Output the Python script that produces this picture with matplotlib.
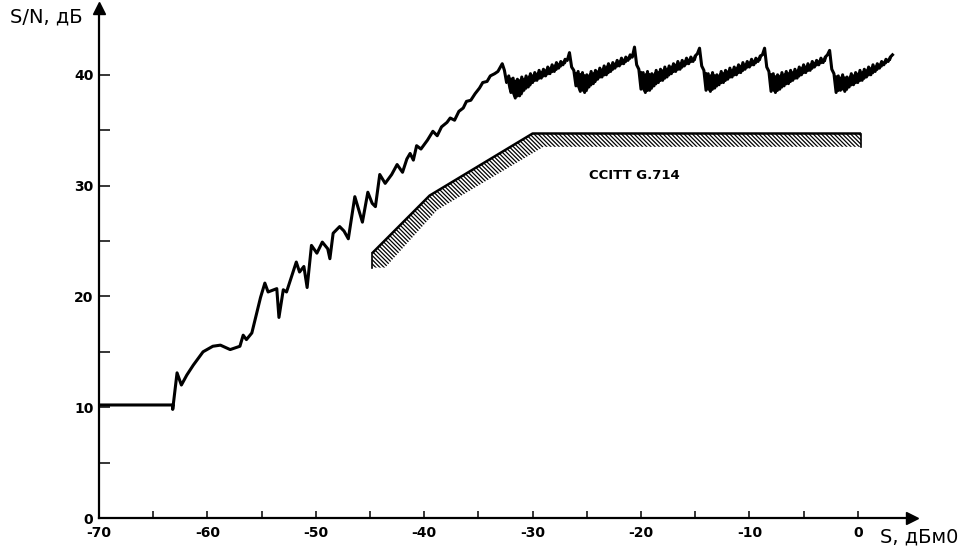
import numpy as np
import matplotlib
matplotlib.use("Agg")
import matplotlib.pyplot as plt

plt.rcParams['font.family'] = ['DejaVu Sans']
plt.rcParams['axes.unicode_minus'] = False
plt.rcParams['hatch.linewidth'] = 0.9

# measured S/N curve: smooth rising part (read point by point)
rise_x = [-70, -63.2, -63.2, -62.8, -62.4, -61.9, -61.3, -60.4, -59.5, -58.8, -57.9,
          -57.0, -56.7, -56.4, -55.9, -55.1, -54.7, -54.4, -53.6, -53.4, -53.0, -52.7,
          -51.8, -51.5, -51.1, -50.8, -50.4, -49.9, -49.4, -48.9, -48.7, -48.4, -47.8,
          -47.4, -47.0, -46.4, -45.7, -45.2, -44.8, -44.5, -44.1, -43.6, -43.0, -42.5,
          -42.0, -41.6, -41.3, -41.0, -40.7, -40.3, -39.7, -39.2, -38.8, -38.4, -37.9,
          -37.6, -37.2, -36.8, -36.4, -36.1, -35.7, -35.3, -34.9, -34.6, -34.2, -33.9,
          -33.5, -33.2]
rise_y = [10.2, 10.2, 9.8, 13.1, 12.0, 12.9, 13.8, 15.0, 15.5, 15.6, 15.2,
          15.5, 16.5, 16.1, 16.7, 19.9, 21.2, 20.4, 20.7, 18.1, 20.6, 20.4,
          23.1, 22.2, 22.7, 20.8, 24.6, 23.9, 24.9, 24.3, 23.4, 25.7, 26.3,
          25.9, 25.2, 29.0, 26.7, 29.4, 28.4, 28.1, 31.0, 30.2, 31.0, 31.9,
          31.2, 32.4, 32.9, 32.3, 33.6, 33.3, 34.1, 34.9, 34.5, 35.3, 35.7,
          36.1, 35.9, 36.7, 37.0, 37.6, 37.7, 38.3, 38.8, 39.3, 39.4, 39.9,
          40.1, 40.3]

# saw-tooth part, sampled every 0.2 dB from each tooth's start
tooth_start = [-32.8, -26.6, -20.6, -14.6, -8.6, -2.6]
tooth1 = [41.0, 40.4, 39.3, 39.9, 38.4, 39.7, 37.9, 39.6, 38.1, 39.8, 38.6, 39.9, 38.9,
          40.1, 39.3, 40.2, 39.5, 40.4, 39.7, 40.5, 39.9, 40.7, 40.1, 40.9, 40.3, 41.1,
          40.6, 41.2, 40.9, 41.4, 41.3]
tooth2 = [42.0, 40.7, 40.4, 39.0, 40.3, 38.5, 40.2, 38.4, 40.0, 38.9, 40.3, 39.2, 40.4,
          39.6, 40.6, 39.8, 40.8, 40.0, 41.0, 40.3, 41.1, 40.6, 41.3, 40.8, 41.5, 41.0,
          41.6, 41.3, 41.8, 41.6]
tooth3 = [42.5, 40.9, 40.5, 38.7, 40.2, 38.4, 40.3, 38.6, 40.1, 39.0, 40.4, 39.3, 40.5,
          39.5, 40.7, 39.8, 40.8, 40.1, 41.0, 40.3, 41.2, 40.5, 41.3, 40.8, 41.5, 41.0,
          41.6, 41.2, 41.7, 41.9]
tooth4 = [42.4, 40.8, 40.4, 38.6, 40.1, 38.5, 40.2, 38.8, 40.0, 39.1, 40.3, 39.3, 40.4,
          39.6, 40.6, 39.8, 40.7, 40.0, 40.9, 40.2, 41.1, 40.5, 41.2, 40.7, 41.4, 40.9,
          41.5, 41.2, 41.7, 41.8]
tooth5 = [42.4, 40.7, 40.3, 38.5, 40.1, 38.4, 40.0, 38.7, 40.2, 39.0, 40.3, 39.2, 40.4,
          39.5, 40.5, 39.7, 40.7, 40.0, 40.9, 40.2, 41.0, 40.4, 41.2, 40.7, 41.3, 40.9,
          41.5, 41.1, 41.6, 41.8]
tooth6 = [42.2, 40.5, 40.1, 38.4, 39.9, 38.6, 40.0, 38.5, 39.8, 38.9, 40.1, 39.1, 40.2,
          39.3, 40.4, 39.5, 40.5, 39.8, 40.7, 40.0, 40.9, 40.3, 41.0, 40.6, 41.2, 40.9,
          41.4, 41.2, 41.6, 41.8]
teeth = [tooth1, tooth2, tooth3, tooth4, tooth5, tooth6]

# CCITT G.714 mask band
mask_top_x = [-44.8, -39.5, -30.0, 0.3]
mask_top_y = [23.9, 29.1, 34.7, 34.7]
mask_bot_x = [-44.8, -43.6, -38.8, -29.0, 0.3]
mask_bot_y = [22.6, 22.6, 27.8, 33.5, 33.5]

x_ticks = [-70, -60, -50, -40, -30, -20, -10, 0]
y_ticks = [0, 10, 20, 30, 40]

curve_x = list(rise_x)
curve_y = list(rise_y)
saw_x, saw_y = [], []
for x0, ys in zip(tooth_start, teeth):
    xs = list(x0 + 0.2 * np.arange(len(ys)))
    curve_x += xs
    curve_y += ys
    # the noisy band is filled solid between its neighbouring extremes,
    # skipping the peak so the drop stays a thin stroke
    saw_x.append(xs[2:])
    saw_y.append(ys[2:])

fig = plt.figure(figsize=(9.68, 5.51), dpi=100)
ax = fig.add_axes([99 / 968, 33 / 551, 813 / 968, 509.7 / 551])

poly_x = mask_top_x + mask_bot_x[::-1]
poly_y = mask_top_y + mask_bot_y[::-1]
ax.fill(poly_x, poly_y, facecolor='white', edgecolor='black', linewidth=0,
        hatch='\\' * 8)
ax.plot(mask_top_x, mask_top_y, color='black', lw=1.8, solid_capstyle='butt')
ax.plot([mask_top_x[0], mask_bot_x[0]], [mask_top_y[0], mask_bot_y[0]], color='black', lw=1.2)
ax.plot([mask_top_x[-1], mask_bot_x[-1]], [mask_top_y[-1], mask_bot_y[-1]], color='black', lw=1.2)

for xs, ys in zip(saw_x, saw_y):
    ys = np.array(ys)
    lo = np.minimum(ys, np.minimum(np.roll(ys, 1), np.roll(ys, -1)))
    hi = np.maximum(ys, np.maximum(np.roll(ys, 1), np.roll(ys, -1)))
    lo[0], lo[-1] = ys[0], ys[-1]
    hi[0], hi[-1] = ys[0], ys[-1]
    ax.fill_between(xs, lo + 0.1, hi - 0.1, color='black', lw=0)

ax.plot(curve_x, curve_y, color='black', lw=2.2, solid_joinstyle='round')

ax.text(-24.8, 30.9, 'CCITT G.714', fontsize=9.5, fontweight='bold', va='center', ha='left')

ax.set_xlim(-70, 5)
ax.set_ylim(0, 46)
ax.spines['top'].set_visible(False)
ax.spines['right'].set_visible(False)
ax.spines['left'].set_linewidth(1.6)
ax.spines['bottom'].set_linewidth(1.6)
ax.plot(1, 0, '>k', ms=8, transform=ax.get_yaxis_transform(), clip_on=False)
ax.plot(-70, 1, '^k', ms=8, transform=ax.get_xaxis_transform(), clip_on=False)

ax.set_xticks(x_ticks)
ax.set_xticks(list(range(-65, 0, 10)), minor=True)
ax.set_yticks(y_ticks)
ax.set_yticks([5, 15, 25, 35], minor=True)
ax.tick_params(axis='x', which='both', direction='in', length=5, width=1.1, pad=6,
               labelsize=10)
ax.tick_params(axis='y', which='both', direction='in', length=8, width=1.1, pad=4,
               labelsize=10)
for lab in ax.get_xticklabels() + ax.get_yticklabels():
    lab.set_fontweight('bold')

fig.text(10 / 968, 1 - 17 / 551, 'S/N, дБ', fontsize=14, ha='left', va='center')
fig.text(880 / 968, 1 - 537 / 551, 'S, дБм0', fontsize=14, ha='left', va='center')

fig.savefig('out.png', dpi=100)
